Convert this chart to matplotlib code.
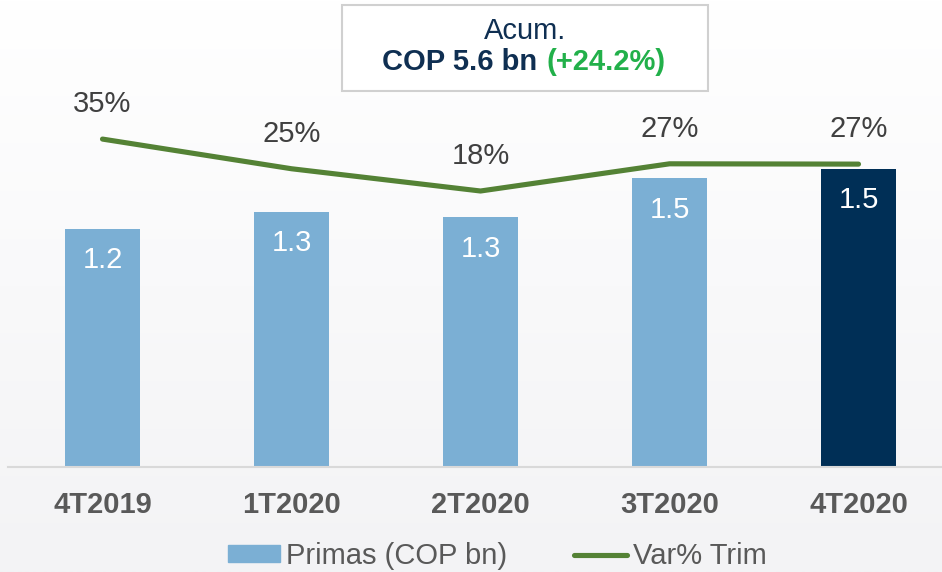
import numpy as np
import matplotlib
matplotlib.use('Agg')
import matplotlib.pyplot as plt
from matplotlib.patches import Rectangle
from matplotlib.lines import Line2D

plt.rcParams['font.family'] = ['Liberation Sans', 'DejaVu Sans']

categories = ['4T2019', '1T2020', '2T2020', '3T2020', '4T2020']
primas = [1.22, 1.31, 1.28, 1.48, 1.53]
primas_labels = ['1.2', '1.3', '1.3', '1.5', '1.5']
var_trim = [35.0, 25.4, 18.2, 27.0, 26.9]
var_labels = ['35%', '25%', '18%', '27%', '27%']

light_blue = '#7bafd4'
dark_blue = '#002f56'
green = '#548235'
navy = '#0f2f52'
bar_colors = [light_blue] * 4 + [dark_blue]

W, H = 942, 572
fig = plt.figure(figsize=(W / 100, H / 100), dpi=100)

# background gradient (white at top, light grey at bottom)
bg = fig.add_axes([0, 0, 1, 1], zorder=-10)
grad = np.linspace(0, 1, 256).reshape(-1, 1)
top = np.array([1.0, 1.0, 1.0])
bot = np.array([0xf3, 0xf3, 0xf5]) / 255
img = top + (bot - top) * grad[..., None]
bg.imshow(img, aspect='auto', extent=[0, 1, 0, 1], origin='upper')
bg.axis('off')

base_y = 467
ax = fig.add_axes([8 / W, (H - base_y) / H, 1 - 8 / W, base_y / H])
ax.set_facecolor('none')
x = np.arange(len(categories))
bars = ax.bar(x, primas, width=0.4, color=bar_colors, zorder=2)
ax.set_xlim(-0.5, -0.5 + (W - 8) / 189)
ax.set_ylim(0, base_y / 195)
for s in ['top', 'right', 'left']:
    ax.spines[s].set_visible(False)
ax.spines['bottom'].set_color('#d9d9d9')
ax.spines['bottom'].set_linewidth(1.5)
ax.set_yticks([])
ax.set_xticks(x)
ax.set_xticklabels(categories, fontsize=21, fontweight='bold', color='#595959')
ax.tick_params(axis='x', length=0, pad=17.5)

for b, lab in zip(bars, primas_labels):
    ax.annotate(lab, (b.get_x() + b.get_width() / 2, b.get_height()),
                xytext=(0, -22.5), textcoords='offset points',
                ha='center', va='center', color='white', fontsize=21, zorder=3)

ax2 = ax.twinx()
ax2.set_ylim(-71.1, 80)
ax2.plot(x, var_trim, color=green, lw=3.7, solid_capstyle='round',
         solid_joinstyle='round', zorder=4)
ax2.axis('off')
for xi, v, lab in zip(x, var_trim, var_labels):
    ax2.annotate(lab, (xi, v), xytext=(0, 25), textcoords='offset points',
                 ha='center', va='center', color='#404040', fontsize=21)

# legend
handles = [Rectangle((0, 0), 1, 1, color=light_blue),
           Line2D([0], [0], color=green, lw=3.7, solid_capstyle='round')]
fig.legend(handles, ['Primas (COP bn)', 'Var% Trim'], loc='center',
           bbox_to_anchor=(497 / W, (H - 556) / H), ncol=2, frameon=False,
           fontsize=21, labelcolor='#595959', handlelength=1.8,
           handleheight=0.5, handletextpad=0.2, columnspacing=2.3)

# accumulated box
fig.patches.append(Rectangle((342 / W, (H - 91) / H), 366 / W, 86 / H,
                             transform=fig.transFigure, facecolor='white',
                             edgecolor='#d0d0d0', lw=1.5, zorder=5))
fig.text(525 / W, (H - 31) / H, 'Acum.', ha='center', va='center',
         color=navy, fontsize=21, zorder=6)
fig.text(537 / W, (H - 62) / H, 'COP 5.6 bn', ha='right', va='center',
         color=navy, fontsize=21, fontweight='bold', zorder=6)
fig.text(546 / W, (H - 62) / H, '(+24.2%)', ha='left', va='center',
         color='#22b04a', fontsize=21, fontweight='bold', zorder=6)

fig.savefig('out.png', dpi=100)
